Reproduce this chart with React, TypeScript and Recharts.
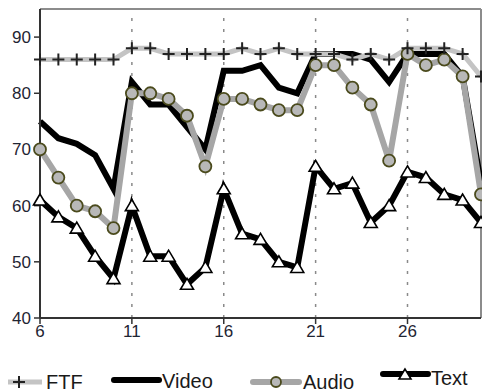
import { LineChart, Line, XAxis, YAxis, ReferenceLine, Legend } from 'recharts';

const days = [6, 7, 8, 9, 10, 11, 12, 13, 14, 15, 16, 17, 18, 19, 20, 21, 22, 23, 24, 25, 26, 27, 28, 29, 30];
const ftf = [86, 86, 86, 86, 86, 88, 88, 87, 87, 87, 87, 88, 87, 88, 87, 87, 87, 86, 87, 86, 88, 88, 88, 87, 83];
const video = [75, 72, 71, 69, 63, 82, 78, 78, 74, 70, 84, 84, 85, 81, 80, 87, 87, 87, 86, 82, 87, 87, 87, 83, 64];
const audio = [70, 65, 60, 59, 56, 80, 80, 79, 76, 67, 79, 79, 78, 77, 77, 85, 85, 81, 78, 68, 87, 85, 86, 83, 62];
const text = [61, 58, 56, 51, 47, 60, 51, 51, 46, 49, 63, 55, 54, 50, 49, 67, 63, 64, 57, 60, 66, 65, 62, 61, 57];

const xTicks = [6, 11, 16, 21, 26];
const gridDays = [11, 16, 21, 26];
const yTicks = [40, 50, 60, 70, 80, 90];

const data = days.map((d, i) => ({ x: d, FTF: ftf[i], Video: video[i], Audio: audio[i], Text: text[i] }));

const FONT = '"Liberation Sans", Arial, sans-serif';

const PlusDot = (props: any) => {
  const { cx, cy, index } = props;
  if (cx == null || cy == null) return <g key={`p${index}`} />;
  return (
    <path key={`p${index}`} d={`M${cx - 6},${cy}h12M${cx},${cy - 6}v12`} stroke="#222" strokeWidth={2} fill="none" />
  );
};

const CircleDot = (props: any) => {
  const { cx, cy, index } = props;
  if (cx == null || cy == null) return <g key={`c${index}`} />;
  return <circle key={`c${index}`} cx={cx} cy={cy} r={6} fill="#b8b8b8" stroke="#4a4a1c" strokeWidth={1.8} />;
};

const TriDot = (props: any) => {
  const { cx, cy, index } = props;
  if (cx == null || cy == null) return <g key={`t${index}`} />;
  return (
    <polygon
      key={`t${index}`}
      points={`${cx},${cy - 6} ${cx - 6.5},${cy + 5} ${cx + 6.5},${cy + 5}`}
      fill="#fff"
      stroke="#000"
      strokeWidth={1.6}
    />
  );
};

// legend drawn by hand, Excel style (line sample + marker + label)
const renderLegend = () => (
  <svg width={482} height={34} style={{ fontFamily: FONT }}>
    <line x1={8} y1={24} x2={42} y2={24} stroke="#c4c4c4" strokeWidth={5} />
    <path d="M13,24h12M19,18v12" stroke="#222" strokeWidth={2} />
    <text x={46} y={31} fontSize={20} fill="#1a1a1a">FTF</text>

    <line x1={114} y1={22} x2={159} y2={22} stroke="#000" strokeWidth={6} strokeLinecap="round" />
    <text x={162} y={30} fontSize={20} fill="#1a1a1a">Video</text>

    <line x1={253} y1={24} x2={299} y2={24} stroke="#a6a6a6" strokeWidth={6} strokeLinecap="round" />
    <circle cx={276} cy={24} r={5} fill="#b8b8b8" stroke="#4a4a1c" strokeWidth={1.8} />
    <text x={303} y={31} fontSize={20} fill="#1a1a1a">Audio</text>

    <line x1={383} y1={16} x2={428} y2={16} stroke="#000" strokeWidth={6} strokeLinecap="round" />
    <polygon points="405,11 399,21 411,21" fill="#fff" stroke="#000" strokeWidth={1.6} />
    <text x={431} y={27} fontSize={20} fill="#1a1a1a">Text</text>
  </svg>
);

export default function App() {
  return (
    <div style={{ position: 'absolute', left: 0, top: 0, background: '#fff' }}>
      <LineChart
        width={482}
        height={392}
        data={data}
        margin={{ top: 9, right: 1, left: 0, bottom: 44 }}
        style={{ fontFamily: FONT }}
      >
        <XAxis
          dataKey="x"
          type="number"
          domain={[6, 30]}
          ticks={xTicks}
          interval={0}
          height={30}
          tickSize={6}
          tickMargin={1}
          axisLine={{ stroke: '#333', strokeWidth: 2 }}
          tickLine={{ stroke: '#333', strokeWidth: 1.5 }}
          tick={{ fontSize: 17, fill: '#1f2533', fontFamily: FONT }}
        />
        <YAxis
          type="number"
          domain={[40, 95]}
          ticks={yTicks}
          interval={0}
          width={40}
          tickSize={6}
          tickMargin={3}
          axisLine={{ stroke: '#333', strokeWidth: 2 }}
          tickLine={{ stroke: '#333', strokeWidth: 1.5 }}
          tick={{ fontSize: 17, fill: '#1f2533', fontFamily: FONT }}
        />
        {gridDays.map((d) => (
          <ReferenceLine key={d} x={d} stroke="#8a8a8a" strokeWidth={1.5} strokeDasharray="3 8" />
        ))}
        <ReferenceLine y={95} stroke="#8c8c8c" strokeWidth={2} />
        <ReferenceLine x={30} stroke="#8c8c8c" strokeWidth={2} />
        <Line dataKey="Video" stroke="#000" strokeWidth={6} dot={false} isAnimationActive={false} />
        <Line dataKey="Audio" stroke="#a6a6a6" strokeWidth={6} dot={CircleDot} isAnimationActive={false} />
        <Line dataKey="Text" stroke="#000" strokeWidth={6} dot={TriDot} isAnimationActive={false} />
        <Line dataKey="FTF" stroke="#c4c4c4" strokeWidth={5} dot={PlusDot} isAnimationActive={false} />
        <Legend
          verticalAlign="middle"
          content={renderLegend}
          wrapperStyle={{ top: 358, left: 0, width: 482, height: 34 }}
        />
      </LineChart>
    </div>
  );
}
